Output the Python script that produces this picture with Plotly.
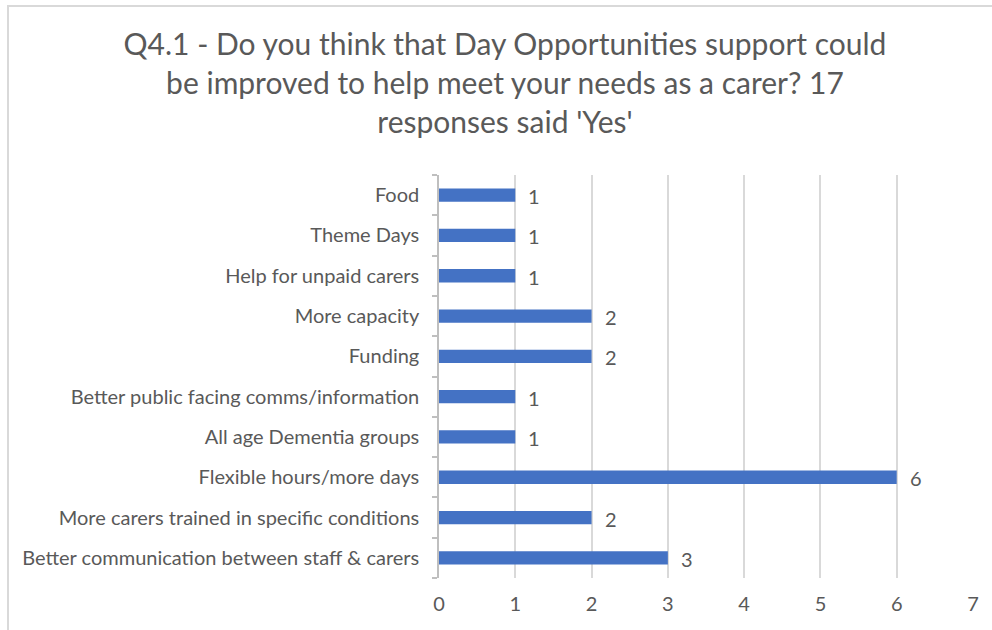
import plotly.graph_objects as go

# Responses, listed bottom to top as drawn on the axis
categories = [
    "Better communication between staff & carers",
    "More carers trained in specific conditions",
    "Flexible hours/more days",
    "All age Dementia groups",
    "Better public facing comms/information",
    "Funding",
    "More capacity",
    "Help for unpaid carers",
    "Theme Days",
    "Food",
]
counts = [3, 2, 6, 1, 1, 2, 2, 1, 1, 1]
x_ticks = [0, 1, 2, 3, 4, 5, 6, 7]

title_text = ("Q4.1 - Do you think that Day Opportunities support could<br>"
              "be improved to help meet your needs as a carer? 17<br>"
              "responses said 'Yes'")

FONT = "Lato"
TEXT_COLOR = "#595959"
BAR_COLOR = "#4472C4"
GRID_COLOR = "#D9D9D9"
LABEL_SIZE = 20

W, H = 992, 630
ML, MR, MT, MB = 439, 19, 175, 52
PW, PH = W - ML - MR, H - MT - MB

fig = go.Figure()
fig.add_trace(go.Bar(
    y=categories,
    x=counts,
    orientation="h",
    marker=dict(color=BAR_COLOR, line=dict(width=0)),
    width=0.33,
    hoverinfo="x+y",
))

# value labels just past the end of each bar
for cat, val in zip(categories, counts):
    fig.add_annotation(
        x=val, y=cat, text=str(val), showarrow=False,
        xanchor="left", xshift=11, yshift=-1,
        font=dict(family=FONT, size=LABEL_SIZE, color=TEXT_COLOR),
    )

# chart-area border (extends past the right and bottom edges)
fig.add_shape(
    type="rect", xref="paper", yref="paper",
    x0=(8 - ML) / PW, x1=(W + 20 - ML) / PW,
    y0=1 - (H + 20 - MT) / PH, y1=1 - (6 - MT) / PH,
    line=dict(color=GRID_COLOR, width=2), fillcolor="rgba(0,0,0,0)",
    layer="below",
)

fig.update_layout(
    width=W, height=H,
    margin=dict(l=ML, r=MR, t=MT, b=MB),
    paper_bgcolor="white",
    plot_bgcolor="white",
    showlegend=False,
    bargap=0.67,
    title=dict(
        text=title_text,
        x=505 / W, xref="container", xanchor="center",
        y=1 - 55 / H, yref="container", yanchor="top",
        font=dict(family=FONT, size=30, color=TEXT_COLOR),
    ),
    font=dict(family=FONT, size=LABEL_SIZE, color=TEXT_COLOR),
    xaxis=dict(
        range=[0, 7],
        tickvals=x_ticks,
        showgrid=True, gridcolor=GRID_COLOR, gridwidth=1.5,
        zeroline=False, showline=False,
        ticks="", ticklabelstandoff=12,
        tickfont=dict(family=FONT, size=LABEL_SIZE, color=TEXT_COLOR),
        fixedrange=True,
    ),
    yaxis=dict(
        type="category",
        categoryorder="array", categoryarray=categories,
        showline=True, linecolor="#BFBFBF", linewidth=1.5,
        ticks="outside", tickson="boundaries", ticklen=5,
        tickcolor="#BFBFBF", tickwidth=1.5,
        ticklabelstandoff=14,
        showgrid=False,
        tickfont=dict(family=FONT, size=LABEL_SIZE, color=TEXT_COLOR),
        fixedrange=True,
    ),
)

fig.write_html("out.html")
